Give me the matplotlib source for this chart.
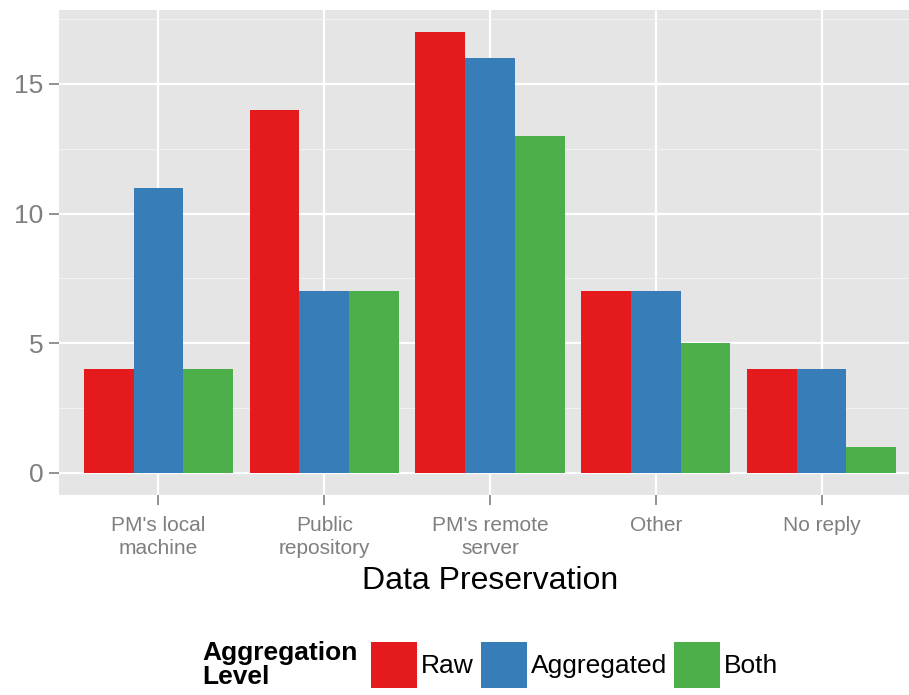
import numpy as np
import matplotlib.pyplot as plt
from matplotlib.patches import Patch

plt.rcParams["font.family"] = ["Liberation Sans", "DejaVu Sans"]

categories = ["PM's local\nmachine", "Public\nrepository", "PM's remote\nserver", "Other", "No reply"]
levels = ["Raw", "Aggregated", "Both"]
raw = [4, 14, 17, 7, 4]
aggregated = [11, 7, 16, 7, 4]
both = [4, 7, 13, 5, 1]
colors = ["#E41A1C", "#377EB8", "#4DAF4A"]

fig = plt.figure(figsize=(9.09, 6.95), dpi=100)
ax = fig.add_axes([59 / 909, 200 / 695, 862 / 909, 485 / 695])
ax.set_facecolor("#E5E5E5")

x = np.arange(len(categories))
w = 0.3
for k, (vals, c) in enumerate(zip([raw, aggregated, both], colors)):
    ax.bar(x + (k - 1) * w, vals, width=w, color=c, linewidth=0, zorder=3)

ax.set_xlim(-0.6, len(categories) - 0.4)
ax.set_ylim(-0.85, 17.85)
ax.set_yticks([0, 5, 10, 15])
ax.set_yticks([2.5, 7.5, 12.5, 17.5], minor=True)
ax.set_xticks(x)
ax.set_xticklabels(categories)

ax.grid(True, which="major", color="white", linewidth=1.6, zorder=0)
ax.grid(True, which="minor", axis="y", color="#F2F2F2", linewidth=0.8, zorder=0)
ax.tick_params(axis="both", which="major", color="#7F7F7F", length=7, width=1.2)
ax.tick_params(axis="y", which="minor", length=0)
ax.tick_params(axis="y", labelsize=19, labelcolor="#7F7F7F", pad=4)
ax.tick_params(axis="x", labelsize=15, labelcolor="#7F7F7F", pad=8)
for lbl in ax.get_xticklabels():
    lbl.set_verticalalignment("top")
    lbl.set_linespacing(1.25)
for s in ax.spines.values():
    s.set_visible(False)

ax.set_xlabel("Data Preservation", fontsize=23, labelpad=6)

# legend along the bottom
ly = (695 - 665) / 695
fig.text(202 / 909, ly, "Aggregation\nLevel", fontsize=19,
         fontweight="bold", ha="left", va="center", linespacing=0.95)
handles = [Patch(facecolor=c, edgecolor="none") for c in colors]
fig.legend(handles, levels, ncol=3, loc="center left", bbox_to_anchor=(371 / 909, ly),
           frameon=False, fontsize=19, handlelength=1.74, handleheight=2.3,
           handletextpad=0.15, columnspacing=0.27, borderaxespad=0, borderpad=0)

fig.savefig("out.png", dpi=100)
